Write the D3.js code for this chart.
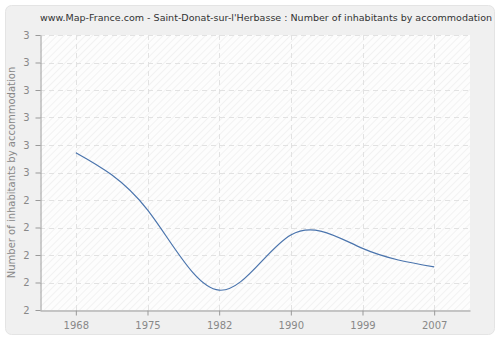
<!DOCTYPE html>
<html>
<head>
<meta charset="utf-8">
<script src="https://cdn.jsdelivr.net/npm/d3@7"></script>
<style>
  body { margin: 0; background: #fff; }
  text { font-family: "DejaVu Sans", Verdana, sans-serif; }
</style>
</head>
<body>
<div id="chart"></div>
<script>
const width = 500, height = 340;
const margin = {top: 35, right: 30, bottom: 30, left: 40};

// data
const years = ["1968", "1975", "1982", "1990", "1999", "2007"];
const values = [2.572, 2.364, 2.072, 2.273, 2.224, 2.157];
const yTicks = [2, 2.1, 2.2, 2.3, 2.4, 2.5, 2.6, 2.7, 2.8, 2.9, 3];

const svg = d3.select("#chart").append("svg")
  .attr("width", width)
  .attr("height", height);

const defs = svg.append("defs");
const hatch = defs.append("pattern")
  .attr("id", "hatch")
  .attr("patternUnits", "userSpaceOnUse")
  .attr("width", 5)
  .attr("height", 5)
  .attr("patternTransform", "rotate(45)");
hatch.append("rect").attr("width", 5).attr("height", 5).attr("fill", "#fdfdfd");
hatch.append("line")
  .attr("x1", 0).attr("y1", 0).attr("x2", 0).attr("y2", 5)
  .attr("stroke", "#ececec").attr("stroke-width", 1.2);

// outer panel
svg.append("rect")
  .attr("x", 5.5).attr("y", 5.5)
  .attr("width", 489).attr("height", 329)
  .attr("rx", 6)
  .attr("fill", "#f0f0f0")
  .attr("stroke", "#e4e4e4");

const title = svg.append("text")
  .attr("x", 266)
  .attr("y", 21)
  .attr("text-anchor", "middle")
  .attr("font-size", 10.5)
  .attr("fill", "#333")
  .text("www.Map-France.com - Saint-Donat-sur-l'Herbasse : Number of inhabitants by accommodation");
// shrink the title until it fits the width seen in the picture
const tw = title.node().getComputedTextLength();
if (tw > 453) title.attr("font-size", 10.5 * 453 / tw);

const x = d3.scalePoint()
  .domain(years)
  .range([margin.left, width - margin.right])
  .padding(0.5);

const y = d3.scaleLinear()
  .domain([2, 3])
  .range([height - margin.bottom, margin.top]);

// plot background
svg.append("rect")
  .attr("x", margin.left)
  .attr("y", margin.top)
  .attr("width", width - margin.left - margin.right)
  .attr("height", height - margin.top - margin.bottom)
  .attr("fill", "url(#hatch)");

// grid
const grid = svg.append("g");
grid.selectAll(".hg")
  .data(yTicks.slice(1))
  .enter()
  .append("line")
    .attr("x1", margin.left)
    .attr("x2", width - margin.right)
    .attr("y1", d => Math.round(y(d)) + 0.5)
    .attr("y2", d => Math.round(y(d)) + 0.5)
    .attr("stroke", "#e2e2e2")
    .style("stroke-dasharray", "5,4");
grid.selectAll(".vg")
  .data(years)
  .enter()
  .append("line")
    .attr("x1", d => Math.round(x(d)) + 0.5)
    .attr("x2", d => Math.round(x(d)) + 0.5)
    .attr("y1", margin.top)
    .attr("y2", height - margin.bottom)
    .attr("stroke", "#e2e2e2")
    .style("stroke-dasharray", "5,4");

// axes
const xAxis = svg.append("g")
  .attr("transform", `translate(0,${height - margin.bottom + 0.5})`)
  .call(d3.axisBottom(x).tickSize(5).tickPadding(6).tickSizeOuter(0));
const yAxis = svg.append("g")
  .attr("transform", `translate(${margin.left + 0.5},0)`)
  .call(d3.axisLeft(y).tickValues(yTicks).tickSize(5).tickPadding(6).tickSizeOuter(0)
    .tickFormat(d => d3.format(".0f")(d)));

[xAxis, yAxis].forEach(a => {
  a.select(".domain").attr("stroke", "#999");
  a.selectAll(".tick line").attr("stroke", "#999");
  a.selectAll(".tick text")
    .attr("fill", "#888")
    .attr("font-size", 10)
    .attr("font-family", "DejaVu Sans, Verdana, sans-serif");
});

svg.append("text")
  .attr("transform", `translate(15,${(margin.top + height - margin.bottom) / 2}) rotate(-90)`)
  .attr("text-anchor", "middle")
  .attr("font-size", 10)
  .attr("fill", "#888")
  .text("Number of inhabitants by accommodation");

// line
const line = d3.line()
  .x((d, i) => x(years[i]))
  .y(d => y(d))
  .curve(d3.curveNatural);

svg.append("path")
  .datum(values)
  .attr("d", line)
  .attr("fill", "none")
  .attr("stroke", "#4a74ad")
  .attr("stroke-width", 1.2);
</script>
</body>
</html>
